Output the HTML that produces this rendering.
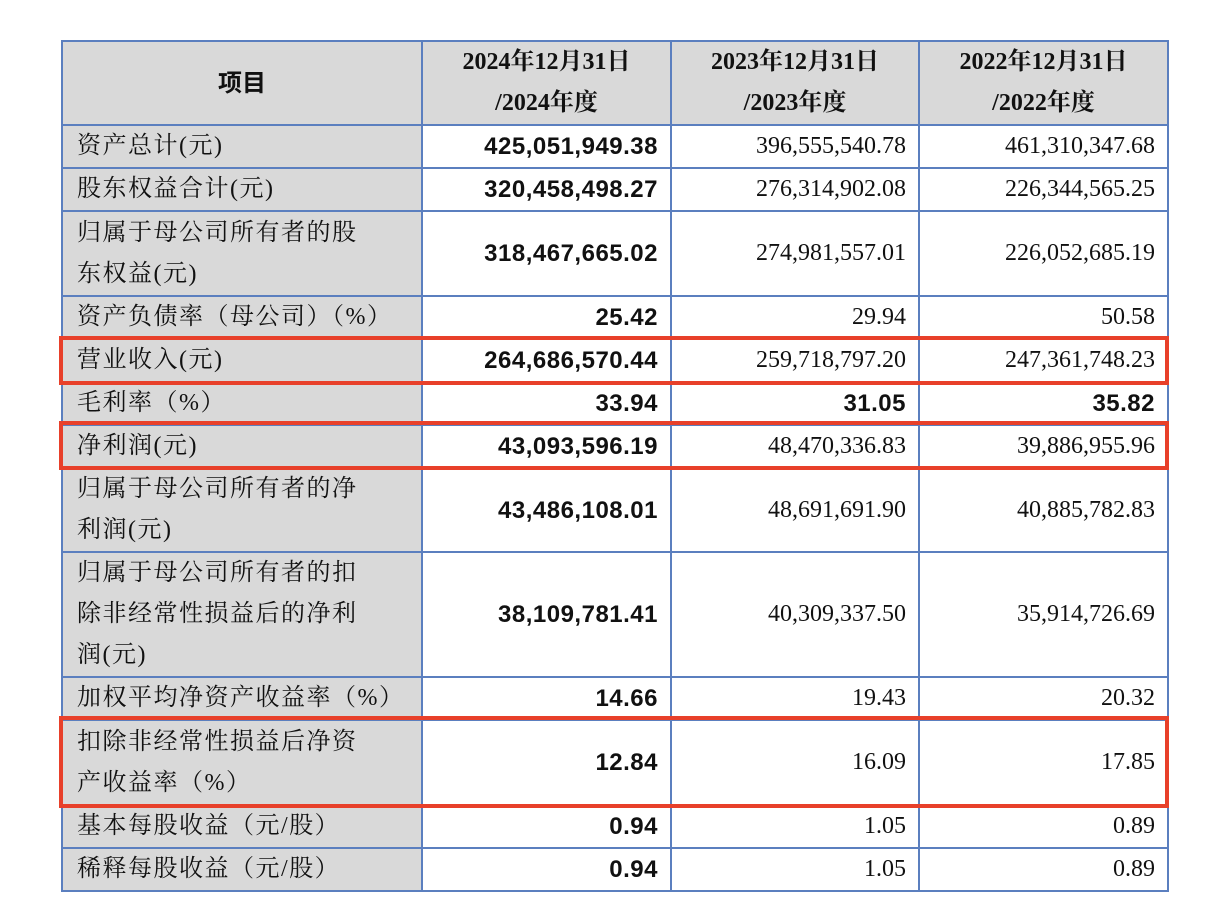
<!DOCTYPE html>
<html><head><meta charset="utf-8"><style>
body{margin:0;width:1232px;height:918px;background:#fff;position:relative;overflow:hidden}
table{position:absolute;left:61px;top:40px;border-collapse:collapse;table-layout:fixed;width:1106px}
td{border:2px solid #5b7fbf;padding:0;font-size:24px;color:#111;font-family:"Liberation Serif","Noto Serif CJK SC",serif;line-height:41px}
td.l{background:#d9d9d9;padding-left:14px;letter-spacing:1.5px}
td.n{text-align:right;padding-right:12px}
td.b{font-family:"Liberation Sans","Noto Sans CJK SC",sans-serif;font-weight:bold;letter-spacing:0.5px}
tr.h td{background:#d9d9d9;text-align:center;line-height:41px;font-weight:bold}
.red{position:absolute;border:4px solid #e8402a;box-sizing:border-box}
</style></head><body>
<table>
<colgroup><col style="width:360px"><col style="width:249px"><col style="width:248px"><col style="width:249px"></colgroup>
<tr class="h" style="height:83px"><td style="font-family:'Liberation Sans','Noto Sans CJK SC',sans-serif">项目</td><td>2024年12月31日<br>/2024年度</td><td>2023年12月31日<br>/2023年度</td><td>2022年12月31日<br>/2022年度</td></tr>
<tr style="height:43px"><td class="l">资产总计(元)</td><td class="n b">425,051,949.38</td><td class="n">396,555,540.78</td><td class="n">461,310,347.68</td></tr>
<tr style="height:43px"><td class="l">股东权益合计(元)</td><td class="n b">320,458,498.27</td><td class="n">276,314,902.08</td><td class="n">226,344,565.25</td></tr>
<tr style="height:85px"><td class="l">归属于母公司所有者的股<br>东权益(元)</td><td class="n b">318,467,665.02</td><td class="n">274,981,557.01</td><td class="n">226,052,685.19</td></tr>
<tr style="height:43px"><td class="l">资产负债率（母公司）（%）</td><td class="n b">25.42</td><td class="n">29.94</td><td class="n">50.58</td></tr>
<tr style="height:43px"><td class="l">营业收入(元)</td><td class="n b">264,686,570.44</td><td class="n">259,718,797.20</td><td class="n">247,361,748.23</td></tr>
<tr style="height:42px"><td class="l">毛利率（%）</td><td class="n b">33.94</td><td class="n b">31.05</td><td class="n b">35.82</td></tr>
<tr style="height:43px"><td class="l">净利润(元)</td><td class="n b">43,093,596.19</td><td class="n">48,470,336.83</td><td class="n">39,886,955.96</td></tr>
<tr style="height:84px"><td class="l">归属于母公司所有者的净<br>利润(元)</td><td class="n b">43,486,108.01</td><td class="n">48,691,691.90</td><td class="n">40,885,782.83</td></tr>
<tr style="height:121px"><td class="l">归属于母公司所有者的扣<br>除非经常性损益后的净利<br>润(元)</td><td class="n b">38,109,781.41</td><td class="n">40,309,337.50</td><td class="n">35,914,726.69</td></tr>
<tr style="height:43px"><td class="l">加权平均净资产收益率（%）</td><td class="n b">14.66</td><td class="n">19.43</td><td class="n">20.32</td></tr>
<tr style="height:85px"><td class="l">扣除非经常性损益后净资<br>产收益率（%）</td><td class="n b">12.84</td><td class="n">16.09</td><td class="n">17.85</td></tr>
<tr style="height:43px"><td class="l">基本每股收益（元/股）</td><td class="n b">0.94</td><td class="n">1.05</td><td class="n">0.89</td></tr>
<tr style="height:42px"><td class="l">稀释每股收益（元/股）</td><td class="n b">0.94</td><td class="n">1.05</td><td class="n">0.89</td></tr>
</table>
<div class="red" style="left:59px;top:336px;width:1110px;height:49px"></div>
<div class="red" style="left:59px;top:421px;width:1110px;height:49px"></div>
<div class="red" style="left:59px;top:716px;width:1110px;height:92px"></div>
</body></html>
